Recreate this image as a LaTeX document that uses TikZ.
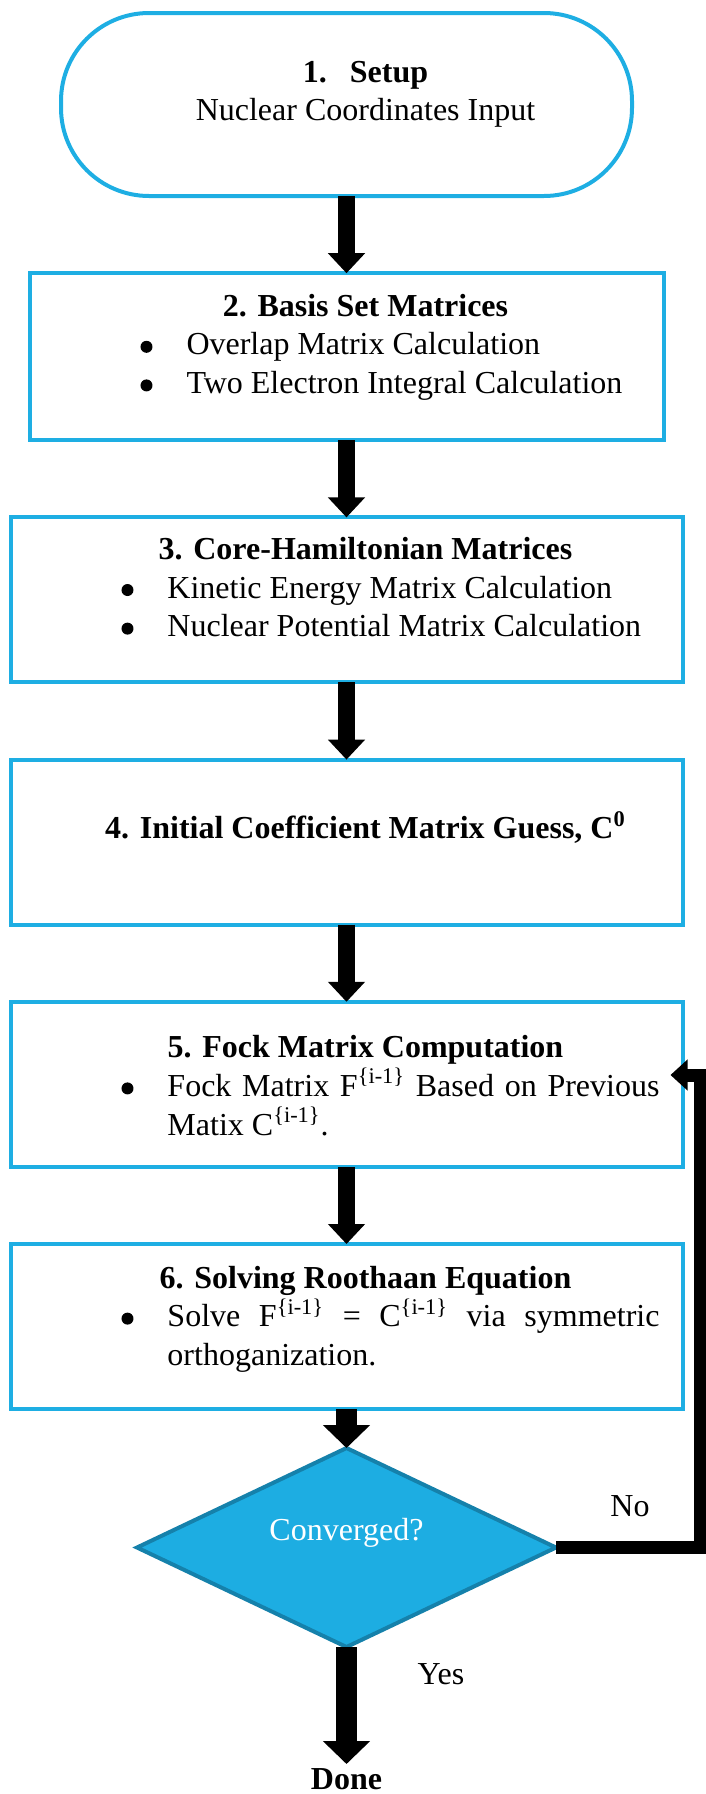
\documentclass[tikz,border=0pt]{standalone}
\usepackage{fontspec}
\setmainfont{Liberation Serif}
\usetikzlibrary{positioning,shapes.geometric,arrows.meta}
\definecolor{flowblue}{HTML}{1EAEE3}
\definecolor{decblue}{HTML}{1DADE2}
\definecolor{decedge}{HTML}{1581AB}
\newcommand\stepbody[5]{\parbox[c][#2][t]{#1}{\noindent\rule{0pt}{#3}\hspace*{19pt}\hfill\textbf{#4}\hfill\null\par#5}}
\newcommand\ctrline[1]{\noindent\hspace*{19pt}\hfill#1\hfill\null\par}
\newcommand\bdot{\tikz[baseline=-4pt]\fill[black] (0,0) circle (3pt);}
\newcommand\bitem[1]{{\rightskip=11.5pt\hyphenpenalty=10000\hangindent=78.5pt\hangafter=1%
  \noindent\hspace*{55.5pt}\makebox[23pt][l]{\bdot}#1\par}}
\begin{document}
\begin{tikzpicture}[x=0.5pt,y=-0.5pt,node distance=38.6pt,
  font=\fontsize{16}{19.3}\selectfont,
  startbox/.style={draw=flowblue,line width=2pt,rounded corners=44pt,inner sep=0pt,outer sep=0pt},
  stepbox/.style={draw=flowblue,line width=2pt,inner sep=0pt,outer sep=0pt},
  decision/.style={diamond,aspect=2.1,minimum width=209.5pt,minimum height=99.5pt,inner sep=0pt,outer sep=0pt,
    fill=decblue,draw=decedge,line width=2pt,text=white},
  flow/.style={line width=8.5pt,-{Triangle[width=18pt,length=10pt]}},
  bigflow/.style={line width=10.5pt,-{Triangle[width=23pt,length=11.5pt]}},
  backline/.style={line width=6.5pt,-{Triangle[width=15pt,length=8.5pt]},shorten >=-6pt}]
 \useasboundingbox (0,0) rectangle (706,1794);
 \node[startbox] (setup) at (346.5,104.5) {\stepbody{285.5pt}{91.5pt}{34.5pt}{1.\hspace{11.5pt}Setup}{\ctrline{Nuclear Coordinates Input}}};
 \node[stepbox] (basis) [below=of setup] {\stepbody{317pt}{83.5pt}{21.5pt}{2. Basis Set Matrices}{%
   \bitem{Overlap Matrix Calculation}\bitem{Two Electron Integral Calculation}}};
 \node[stepbox] (core)  [below=of basis] {\stepbody{336pt}{82.5pt}{21pt}{3. Core-Hamiltonian Matrices}{%
   \bitem{Kinetic Energy Matrix Calculation}\bitem{Nuclear Potential Matrix Calculation}}};
 \node[stepbox] (guess) [below=of core]  {\stepbody{336pt}{82.5pt}{39.5pt}{4. Initial Coefficient Matrix Guess, C\textsuperscript{0}}{}};
 \node[stepbox] (fock)  [below=of guess] {\stepbody{336pt}{82.5pt}{28pt}{5. Fock Matrix Computation}{%
   \bitem{Fock Matrix F\textsuperscript{\{i-1\}} Based on Previous Matix C\textsuperscript{\{i-1\}}.}}};
 \node[stepbox] (solve) [below=of fock]  {\stepbody{336pt}{82.5pt}{22pt}{6. Solving Roothaan Equation}{%
   \bitem{Solve F\textsuperscript{\{i-1\}} = C\textsuperscript{\{i-1\}} via symmetric orthoganization.}}};
 \node[decision] (dec) [below=19.5pt of solve] {\smash{\raisebox{3.5pt}{Converged?}}};
 \node[font=\fontsize{16}{19.3}\selectfont\bfseries,inner sep=2pt] (done) [below=58.5pt of dec] {Done};
 \node (nolab)  at (630,1506) {No};
 \node (yeslab) at (441,1674) {Yes};
 \coordinate (turn) at (700,1075);
\path[flow]
 (setup) edge (basis)
 (basis) edge (core)
 (core)  edge (guess)
 (guess) edge (fock)
 (fock)  edge (solve)
;
\path[bigflow]
 (solve) edge (dec)
 (dec)   edge (done)
;
 \draw[backline] (dec.east) -| (turn) -- (turn -| fock.east);
\end{tikzpicture}
\end{document}
